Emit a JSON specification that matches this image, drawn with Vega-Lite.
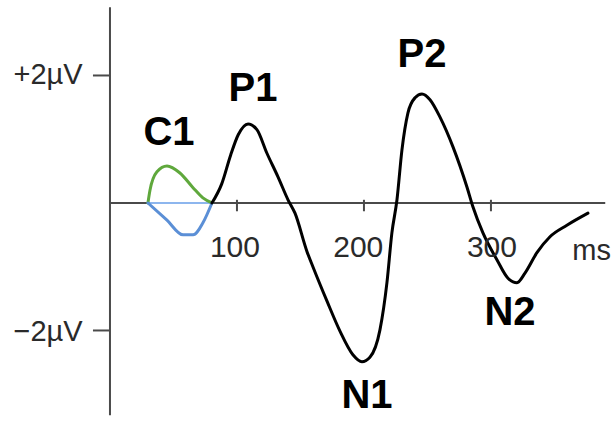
{
  "$schema": "https://vega.github.io/schema/vega-lite/v6.json",
  "width": 614,
  "height": 421,
  "padding": 0,
  "autosize": {"type": "none"},
  "background": "white",
  "config": {"view": {"stroke": null}},
  "datasets": {
    "axes": [
      {"x": 0, "x2": 0, "y": 3.07, "y2": -3.33},
      {"x": 0, "x2": 390, "y": 0, "y2": 0},
      {"x": -13.4, "x2": 0, "y": 2, "y2": 2},
      {"x": -13.4, "x2": 0, "y": -2, "y2": -2},
      {"x": 100, "x2": 100, "y": 0.05, "y2": -0.13},
      {"x": 200, "x2": 200, "y": 0.05, "y2": -0.13},
      {"x": 300, "x2": 300, "y": 0.05, "y2": -0.13}
    ],
    "baseline": [
      {"x": 29.9, "x2": 80.3, "y": 0, "y2": 0}
    ],
    "erp": [
      {"series": "C1 positive", "t": 29.9, "v": 0},
      {"series": "C1 positive", "t": 31.5, "v": 0.2},
      {"series": "C1 positive", "t": 37, "v": 0.49},
      {"series": "C1 positive", "t": 44.9, "v": 0.58},
      {"series": "C1 positive", "t": 55.1, "v": 0.47},
      {"series": "C1 positive", "t": 65.4, "v": 0.24},
      {"series": "C1 positive", "t": 73.2, "v": 0.08},
      {"series": "C1 positive", "t": 80.3, "v": 0},
      {"series": "C1 negative", "t": 29.9, "v": 0},
      {"series": "C1 negative", "t": 44.9, "v": -0.27},
      {"series": "C1 negative", "t": 57.5, "v": -0.5},
      {"series": "C1 negative", "t": 65.4, "v": -0.5},
      {"series": "C1 negative", "t": 73.2, "v": -0.31},
      {"series": "C1 negative", "t": 80.3, "v": 0},
      {"series": "ERP", "t": 80.3, "v": 0},
      {"series": "ERP", "t": 88, "v": 0.3},
      {"series": "ERP", "t": 95, "v": 0.75},
      {"series": "ERP", "t": 101, "v": 1.07},
      {"series": "ERP", "t": 108.7, "v": 1.24},
      {"series": "ERP", "t": 115.7, "v": 1.15},
      {"series": "ERP", "t": 123.6, "v": 0.78},
      {"series": "ERP", "t": 132.3, "v": 0.41},
      {"series": "ERP", "t": 140.2, "v": 0.05},
      {"series": "ERP", "t": 145.7, "v": -0.16},
      {"series": "ERP", "t": 155.1, "v": -0.76},
      {"series": "ERP", "t": 159.8, "v": -1.0},
      {"series": "ERP", "t": 170.9, "v": -1.54},
      {"series": "ERP", "t": 181.1, "v": -2.01},
      {"series": "ERP", "t": 191.3, "v": -2.38},
      {"series": "ERP", "t": 198.4, "v": -2.49},
      {"series": "ERP", "t": 204.7, "v": -2.42},
      {"series": "ERP", "t": 212.6, "v": -1.99},
      {"series": "ERP", "t": 218.1, "v": -1.25},
      {"series": "ERP", "t": 222.0, "v": -0.47},
      {"series": "ERP", "t": 226.0, "v": 0.05},
      {"series": "ERP", "t": 229.9, "v": 0.83},
      {"series": "ERP", "t": 234.6, "v": 1.41},
      {"series": "ERP", "t": 240.2, "v": 1.65},
      {"series": "ERP", "t": 245.7, "v": 1.71},
      {"series": "ERP", "t": 252.0, "v": 1.62},
      {"series": "ERP", "t": 259.8, "v": 1.35},
      {"series": "ERP", "t": 270.1, "v": 0.88},
      {"series": "ERP", "t": 281.1, "v": 0.25},
      {"series": "ERP", "t": 285.8, "v": -0.06},
      {"series": "ERP", "t": 293.7, "v": -0.47},
      {"series": "ERP", "t": 304.7, "v": -0.89},
      {"series": "ERP", "t": 313.4, "v": -1.18},
      {"series": "ERP", "t": 320.5, "v": -1.25},
      {"series": "ERP", "t": 326.8, "v": -1.1},
      {"series": "ERP", "t": 336.2, "v": -0.78},
      {"series": "ERP", "t": 346.5, "v": -0.53},
      {"series": "ERP", "t": 359.8, "v": -0.35},
      {"series": "ERP", "t": 376.4, "v": -0.16}
    ],
    "components": [
      {"label": "C1", "t": 46.5, "v": 1.1},
      {"label": "P1", "t": 112.6, "v": 1.79},
      {"label": "P2", "t": 245.7, "v": 2.32},
      {"label": "N1", "t": 202.4, "v": -3.03},
      {"label": "N2", "t": 315, "v": -1.73}
    ],
    "ylabels": [
      {"label": "+2µV", "t": -21.5, "v": 2},
      {"label": "−2µV", "t": -21.5, "v": -2.02}
    ],
    "xlabels": [
      {"label": "100", "t": 98.4, "v": -0.85},
      {"label": "200", "t": 195.5, "v": -0.85},
      {"label": "300", "t": 300.8, "v": -0.85}
    ],
    "unit": [
      {"label": "ms", "t": 364, "v": -0.9}
    ]
  },
  "layer": [
    {
      "data": {"name": "axes"},
      "mark": {"type": "rule", "color": "#4a4a4a", "strokeWidth": 2},
      "encoding": {
        "x": {"field": "x", "type": "quantitative", "scale": {"domain": [-86.6, 396.9], "nice": false, "zero": false}, "axis": null},
        "x2": {"field": "x2"},
        "y": {"field": "y", "type": "quantitative", "scale": {"domain": [-3.42, 3.184], "nice": false, "zero": false}, "axis": null},
        "y2": {"field": "y2"}
      }
    },
    {
      "data": {"name": "baseline"},
      "mark": {"type": "rule", "color": "#8db6ee", "strokeWidth": 2},
      "encoding": {
        "x": {"field": "x", "type": "quantitative", "axis": null},
        "x2": {"field": "x2"},
        "y": {"field": "y", "type": "quantitative", "axis": null},
        "y2": {"field": "y2"}
      }
    },
    {
      "data": {"name": "erp"},
      "mark": {"type": "line", "interpolate": "monotone", "strokeCap": "round", "strokeJoin": "round"},
      "encoding": {
        "x": {"field": "t", "type": "quantitative", "axis": null},
        "y": {"field": "v", "type": "quantitative", "axis": null},
        "color": {"field": "series", "type": "nominal", "scale": {"domain": ["C1 positive", "C1 negative", "ERP"], "range": ["#5fa83c", "#5b8fd6", "#000000"]}, "legend": null},
        "strokeWidth": {"field": "series", "type": "nominal", "scale": {"domain": ["C1 positive", "C1 negative", "ERP"], "range": [3, 3, 4.6]}, "legend": null}
      }
    },
    {
      "data": {"name": "components"},
      "mark": {"type": "text", "font": "Liberation Sans", "fontWeight": "bold", "fontSize": 40, "align": "center", "baseline": "middle", "color": "#000000"},
      "encoding": {
        "x": {"field": "t", "type": "quantitative", "axis": null},
        "y": {"field": "v", "type": "quantitative", "axis": null},
        "text": {"field": "label"}
      }
    },
    {
      "data": {"name": "ylabels"},
      "mark": {"type": "text", "font": "Liberation Sans", "fontSize": 29, "align": "right", "baseline": "middle", "color": "#2a2a2a"},
      "encoding": {
        "x": {"field": "t", "type": "quantitative", "axis": null},
        "y": {"field": "v", "type": "quantitative", "axis": null},
        "text": {"field": "label"}
      }
    },
    {
      "data": {"name": "xlabels"},
      "mark": {"type": "text", "font": "Liberation Sans", "fontSize": 30, "align": "center", "baseline": "alphabetic", "color": "#2a2a2a"},
      "encoding": {
        "x": {"field": "t", "type": "quantitative", "axis": null},
        "y": {"field": "v", "type": "quantitative", "axis": null},
        "text": {"field": "label"}
      }
    },
    {
      "data": {"name": "unit"},
      "mark": {"type": "text", "font": "Liberation Sans", "fontSize": 29, "align": "left", "baseline": "alphabetic", "color": "#2a2a2a"},
      "encoding": {
        "x": {"field": "t", "type": "quantitative", "axis": null},
        "y": {"field": "v", "type": "quantitative", "axis": null},
        "text": {"field": "label"}
      }
    }
  ]
}
